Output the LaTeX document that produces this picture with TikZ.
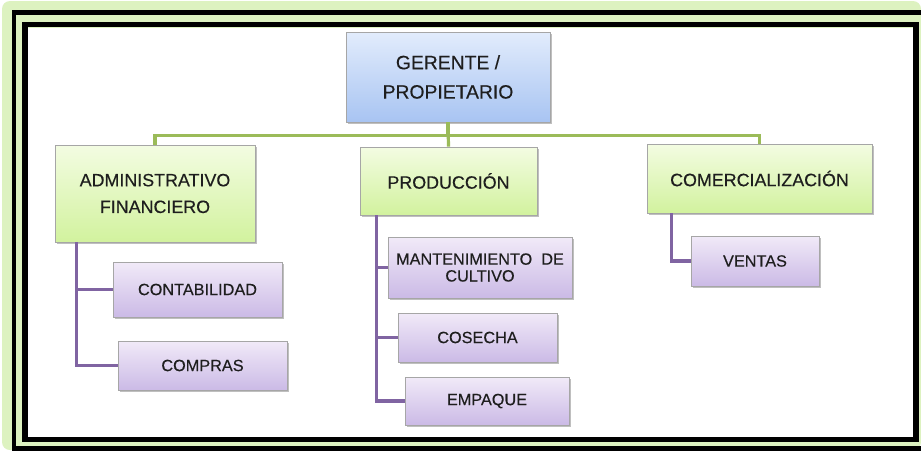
\documentclass[tikz,border=0pt]{standalone}
\usepackage{fontspec}
\setmainfont[FakeBold=0.35]{Liberation Sans}
\usetikzlibrary{shadows,calc}
\definecolor{glow}{HTML}{DDF2C0}
\definecolor{gline}{HTML}{9BBB59}
\definecolor{pline}{HTML}{8064A2}
\definecolor{txt}{HTML}{1E1E1E}
\definecolor{btop}{HTML}{E2ECFC}
\definecolor{bbot}{HTML}{A8C4F2}
\definecolor{gtop}{HTML}{F3FCE2}
\definecolor{gbot}{HTML}{D2F29E}
\definecolor{ptop}{HTML}{F1EAF8}
\definecolor{pbot}{HTML}{CBBAE6}
\definecolor{boxedge}{HTML}{A6A6A6}
\tikzset{
  box/.style={draw=boxedge, line width=0.6pt, align=center, text=txt, inner sep=2pt,
    drop shadow={shadow xshift=1.6pt, shadow yshift=-1.8pt, opacity=0.45, fill=black!55}},
  bluebox/.style={box, top color=btop, bottom color=bbot, font=\fontsize{14.5}{22}\selectfont},
  greenbox/.style={box, top color=gtop, bottom color=gbot, font=\fontsize{13.4}{20}\selectfont},
  purplebox/.style={box, top color=ptop, bottom color=pbot, font=\fontsize{12.2}{12.6}\selectfont},
  gconn/.style={draw=gline, line width=2.4pt},
  pconn/.style={draw=pline, line width=2.4pt},
}
\begin{document}
\begin{tikzpicture}[x=0.75pt,y=-0.75pt]
\useasboundingbox (0,0) rectangle (921,450);
\fill[white] (0,0) rectangle (921,450);
\fill[glow, rounded corners=6pt] (2,1) rectangle (921,450);
% frame
\draw[black, line width=3.4pt] (14,12.5) rectangle (925,448.5);
\draw[black, line width=4.4pt] (25,24.5) rectangle (916,439.5);
\fill[white] (28,27.5) rectangle (913,436.5);

% nodes
\node[bluebox, minimum width=153pt, minimum height=67.5pt] (ger) at (448,77) {GERENTE /\\PROPIETARIO};
\node[greenbox, minimum width=150pt, minimum height=72.75pt] (adm) at (155,193.5) {ADMINISTRATIVO\\FINANCIERO};
\node[greenbox, minimum width=132.75pt, minimum height=51pt] (prod) at (448.5,181) {PRODUCCIÓN};
\node[greenbox, minimum width=168.75pt, minimum height=51.75pt] (com) at (759.5,178.5) {COMERCIALIZACIÓN};

\node[purplebox, minimum width=126.75pt, minimum height=41.25pt] (cont) at (197.5,289.5) {CONTABILIDAD};
\node[purplebox, minimum width=126.75pt, minimum height=36.75pt] (compras) at (202.5,365.5) {COMPRAS};
\node[purplebox, minimum width=138pt, minimum height=45.75pt] (mant) at (480,267.5) {MANTENIMIENTO\ \ DE\\CULTIVO};
\node[purplebox, minimum width=119.25pt, minimum height=36.75pt] (cos) at (477.5,337.5) {COSECHA};
\node[purplebox, minimum width=123pt, minimum height=36pt] (emp) at (487,401) {EMPAQUE};
\node[purplebox, minimum width=96pt, minimum height=37.5pt] (ven) at (755,261) {VENTAS};

% green connectors
\draw[gconn] (ger.south) -- ++(0,13) -| (adm.north);
\draw[gconn] (ger.south) -- ++(0,13) -| (com.north);
\draw[gconn] (ger.south) -- (prod.north);

% purple connectors
\coordinate (ab) at ($(adm.south west)+(22,0)$);
\draw[pconn] (ab) |- (cont.west);
\draw[pconn] (ab) |- (compras.west);
\coordinate (pb) at ($(prod.south west)+(17,0)$);
\draw[pconn] (pb) |- (mant.west);
\draw[pconn] (pb) |- (cos.west);
\draw[pconn] (pb) |- (emp.west);
\coordinate (cb) at ($(com.south west)+(25,0)$);
\draw[pconn] (cb) |- (ven.west);
\end{tikzpicture}
\end{document}
